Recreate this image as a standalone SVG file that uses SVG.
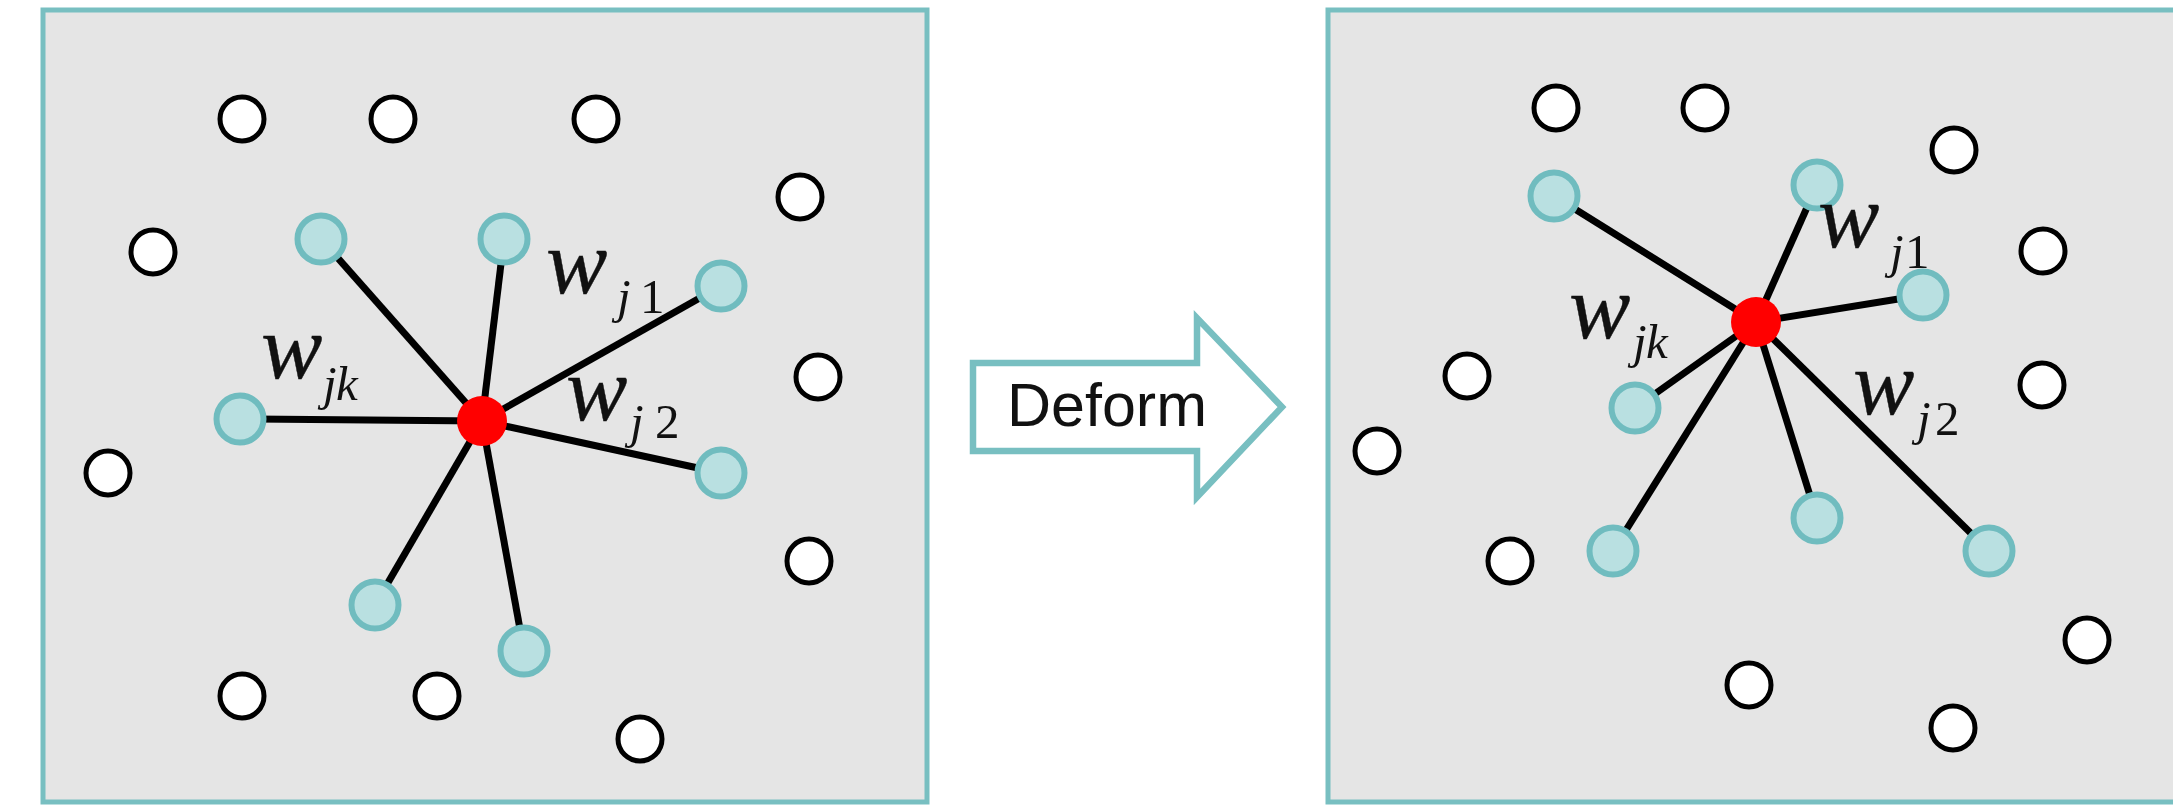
<svg xmlns="http://www.w3.org/2000/svg" width="2173" height="811" viewBox="0 0 2173 811">
<style>
.panel{fill:#e5e5e5;stroke:#78bfc1;stroke-width:5}
.pt{fill:#ffffff;stroke:#000000;stroke-width:5}
.nb{fill:#b9e0e1;stroke:#70bcbf;stroke-width:6}
.ctr{fill:#ff0000}
.edge{stroke:#000000;stroke-width:7;stroke-linecap:butt}
.w{font-family:"Liberation Serif","Times New Roman",serif;font-style:italic;font-size:92px;fill:#111111;stroke:#111111;stroke-width:0.4}
.sub{font-family:"Liberation Serif","Times New Roman",serif;font-size:49px;fill:#111111}
.it{font-style:italic}
.lbl{font-family:"Liberation Sans",Arial,sans-serif;font-size:61px;fill:#111111}
</style>
<rect width="2173" height="811" fill="#ffffff"/>
<g id="panel-before"><rect class="panel" x="43" y="10" width="884" height="792"/></g>
<g id="panel-after"><rect class="panel" x="1328" y="10" width="900" height="792"/></g>

<g id="deform-arrow">
<polygon points="973,363 1197,363 1197,318 1282,407 1197,497 1197,451 973,451" fill="#ffffff" stroke="#78bfc1" stroke-width="6.5" stroke-linejoin="miter"/>
<text class="lbl" x="1007" y="426">Deform</text>
</g>

<g id="connectors">
<line class="edge" x1="482" y1="421" x2="321" y2="239"/>
<line class="edge" x1="482" y1="421" x2="504" y2="239"/>
<line class="edge" x1="482" y1="421" x2="721" y2="286"/>
<line class="edge" x1="482" y1="421" x2="240" y2="419"/>
<line class="edge" x1="482" y1="421" x2="721" y2="473"/>
<line class="edge" x1="482" y1="421" x2="375" y2="605"/>
<line class="edge" x1="482" y1="421" x2="524" y2="651"/>
<line class="edge" x1="1756" y1="322" x2="1554" y2="196"/>
<line class="edge" x1="1756" y1="322" x2="1817" y2="185"/>
<line class="edge" x1="1756" y1="322" x2="1923" y2="295"/>
<line class="edge" x1="1756" y1="322" x2="1635" y2="408"/>
<line class="edge" x1="1756" y1="322" x2="1817" y2="518"/>
<line class="edge" x1="1756" y1="322" x2="1613" y2="551"/>
<line class="edge" x1="1756" y1="322" x2="1989" y2="551"/>
</g>

<g id="before-points">
<circle class="pt" cx="242" cy="119" r="22"/>
<circle class="pt" cx="393" cy="119" r="22"/>
<circle class="pt" cx="596" cy="119" r="22"/>
<circle class="pt" cx="800" cy="197" r="22"/>
<circle class="pt" cx="153" cy="252" r="22"/>
<circle class="pt" cx="818" cy="377" r="22"/>
<circle class="pt" cx="108" cy="473" r="22"/>
<circle class="pt" cx="809" cy="561" r="22"/>
<circle class="pt" cx="242" cy="696" r="22"/>
<circle class="pt" cx="437" cy="696" r="22"/>
<circle class="pt" cx="640" cy="739" r="22"/>
</g>
<g id="before-neighbors">
<circle class="nb" cx="321" cy="239" r="23.5"/>
<circle class="nb" cx="504" cy="239" r="23.5"/>
<circle class="nb" cx="721" cy="286" r="23.5"/>
<circle class="nb" cx="240" cy="419" r="23.5"/>
<circle class="nb" cx="721" cy="473" r="23.5"/>
<circle class="nb" cx="375" cy="605" r="23.5"/>
<circle class="nb" cx="524" cy="651" r="23.5"/>
</g>
<g id="before-center"><circle class="ctr" cx="482" cy="421" r="25"/></g>

<g id="before-labels">
<text><tspan class="w" x="546" y="293">w</tspan><tspan class="sub it" x="617" y="313">j</tspan><tspan class="sub" x="640" y="313">1</tspan></text>
<text><tspan class="w" x="261" y="378">w</tspan><tspan class="sub it" x="323" y="400">j</tspan><tspan class="sub it" x="336" y="400">k</tspan></text>
<text><tspan class="w" x="566" y="420">w</tspan><tspan class="sub it" x="630" y="438">j</tspan><tspan class="sub" x="655" y="438">2</tspan></text>
</g>

<g id="after-points">
<circle class="pt" cx="1556" cy="108" r="22"/>
<circle class="pt" cx="1705" cy="108" r="22"/>
<circle class="pt" cx="1954" cy="150" r="22"/>
<circle class="pt" cx="2043" cy="251" r="22"/>
<circle class="pt" cx="1467" cy="376" r="22"/>
<circle class="pt" cx="2042" cy="385" r="22"/>
<circle class="pt" cx="1377" cy="451" r="22"/>
<circle class="pt" cx="1510" cy="561" r="22"/>
<circle class="pt" cx="2087" cy="640" r="22"/>
<circle class="pt" cx="1749" cy="685" r="22"/>
<circle class="pt" cx="1953" cy="728" r="22"/>
</g>
<g id="after-neighbors">
<circle class="nb" cx="1554" cy="196" r="23.5"/>
<circle class="nb" cx="1817" cy="185" r="23.5"/>
<circle class="nb" cx="1923" cy="295" r="23.5"/>
<circle class="nb" cx="1635" cy="408" r="23.5"/>
<circle class="nb" cx="1817" cy="518" r="23.5"/>
<circle class="nb" cx="1613" cy="551" r="23.5"/>
<circle class="nb" cx="1989" cy="551" r="23.5"/>
</g>
<g id="after-center"><circle class="ctr" cx="1756" cy="322" r="25"/></g>

<g id="after-labels">
<text><tspan class="w" x="1818" y="247">w</tspan><tspan class="sub it" x="1890" y="268">j</tspan><tspan class="sub" x="1905" y="268">1</tspan></text>
<text><tspan class="w" x="1569" y="338">w</tspan><tspan class="sub it" x="1633" y="358">j</tspan><tspan class="sub it" x="1646" y="358">k</tspan></text>
<text><tspan class="w" x="1853" y="414">w</tspan><tspan class="sub it" x="1917" y="435">j</tspan><tspan class="sub" x="1935" y="435">2</tspan></text>
</g>
</svg>
